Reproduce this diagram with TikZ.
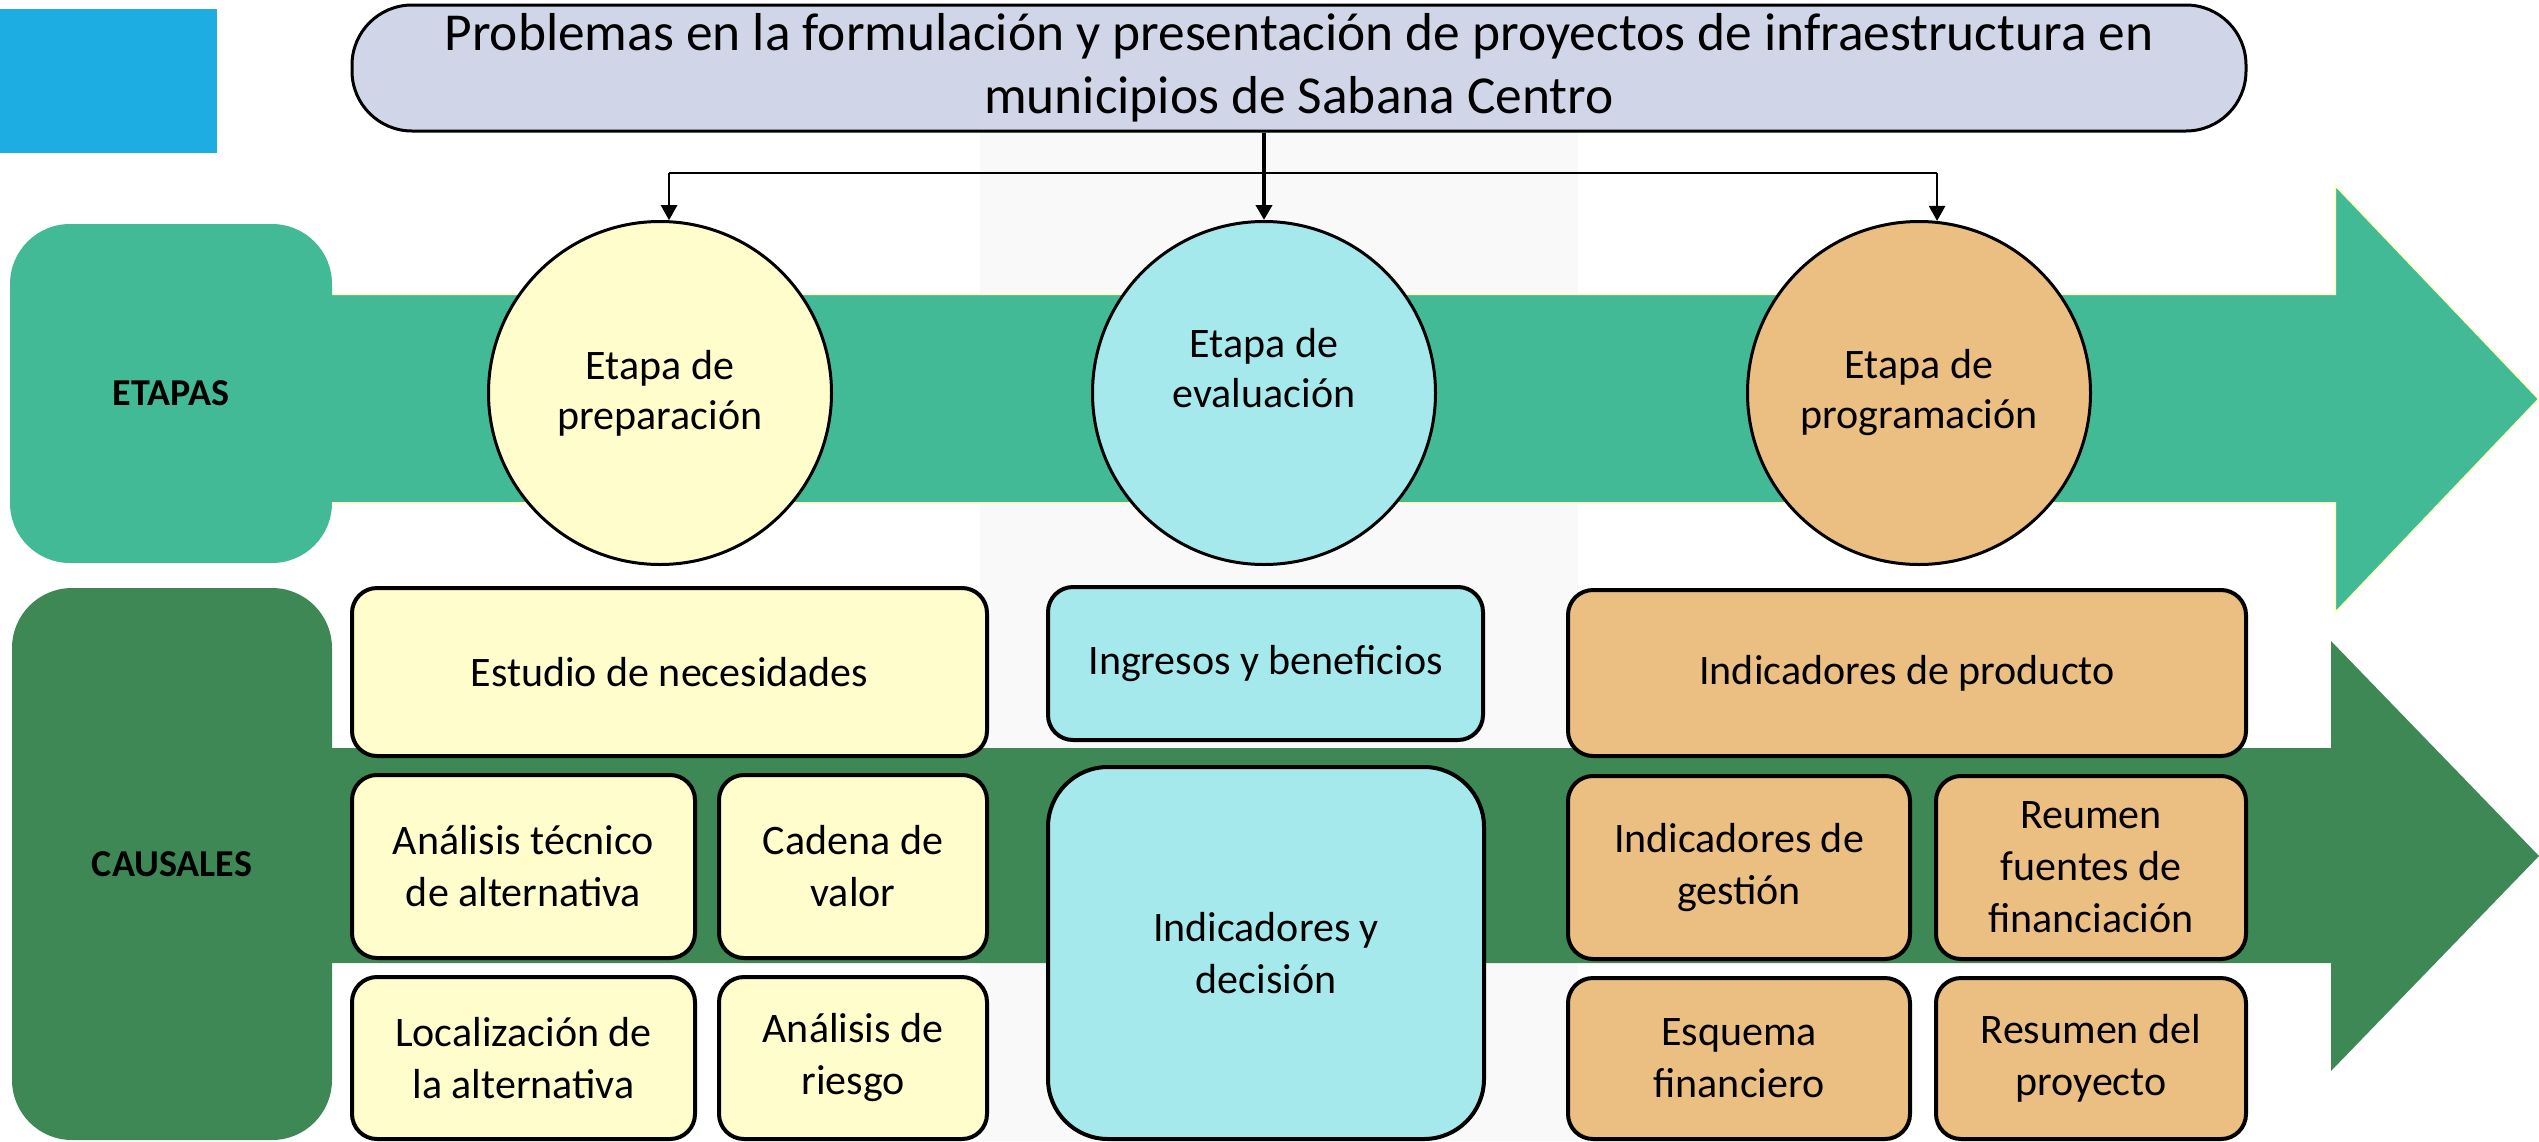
\documentclass[tikz,border=0pt]{standalone}
\usepackage{fontspec}
\setmainfont{Carlito}
\usetikzlibrary{arrows.meta}

\begin{document}
\begin{tikzpicture}[x=0.5pt,y=0.5pt,yscale=-1,xscale=1,
  dims/.style 2 args={minimum width=#1, minimum height=#2},
  box/.style={draw=black, line width=2pt, rounded corners=12.5pt, inner sep=0pt, align=center, font=\fontsize{21}{26}\selectfont},
  prepbox/.style={box, fill={rgb, 255:red, 255; green, 253; blue, 204}},
  evalbox/.style={box, fill={rgb, 255:red, 166; green, 233; blue, 237}},
  progbox/.style={box, fill={rgb, 255:red, 235; green, 190; blue, 130}},
  stage/.style={circle, draw=black, line width=1.5pt, minimum size=171.5pt, inner sep=0pt, align=center, font=\fontsize{21}{25}\selectfont},
  band/.style={draw=none, rounded corners=30pt, inner sep=0pt, font=\bfseries\fontsize{19}{23}\selectfont},
  link/.style={line width=1.25pt, -{Triangle[length=7.5pt,width=8pt]}}
]
\useasboundingbox (0,0) rectangle (2539,1141);

%Shape: Rectangle [background strip]
\fill [color={rgb, 255:red, 249; green, 249; blue, 249}] (980,131) rectangle (1578,1141);
%Shape: Rectangle [blue corner]
\fill [color={rgb, 255:red, 30; green, 173; blue, 227}] (0,9) rectangle (217,153);

%Shape: Right Arrow [etapas]
\draw [draw={rgb, 255:red, 255; green, 253; blue, 204}, line width=1pt, fill={rgb, 255:red, 67; green, 186; blue, 150}] (300,294) -- (2335,294) -- (2335,185) -- (2539,399) -- (2335,613) -- (2335,503) -- (300,503) -- cycle;
%Shape: Right Arrow [causales]
\fill [color={rgb, 255:red, 61; green, 136; blue, 84}] (300,748) -- (2331,748) -- (2331,641) -- (2539,856) -- (2331,1071) -- (2331,963) -- (300,963) -- cycle;

% Text Node
\node [band, dims={161pt}{169.5pt}, fill={rgb, 255:red, 67; green, 186; blue, 150}] (etapas) at (171,393.5) {ETAPAS};
% Text Node
\node [band, dims={160pt}{276pt}, fill={rgb, 255:red, 61; green, 136; blue, 84}] (causales) at (172,864) {CAUSALES};

% Text Node
\node [draw=black, line width=1.5pt, rounded corners=30pt, fill={rgb, 255:red, 208; green, 213; blue, 232}, inner sep=0pt, align=center, font=\fontsize{26.7}{31.75}\selectfont, dims={947pt}{63pt}] (title) at (1299,68) {Problemas en la formulación y presentación de proyectos de infraestructura en\\municipios de Sabana Centro};

%Shape: Circle
\node [stage, fill={rgb, 255:red, 255; green, 253; blue, 204}] (prep) at (660,393) {Etapa de\\preparación};
\node [stage, fill={rgb, 255:red, 166; green, 233; blue, 237}] (eval) at (1264,393) {Etapa de\\evaluación\\~};
\node [stage, fill={rgb, 255:red, 235; green, 190; blue, 130}] (prog) at (1919,393) {Etapa de\\programación};

%Straight Lines
\coordinate (hub) at (1264,173);
\draw [link, line width=2pt] (eval |- title.south) -- (eval.north);
\draw [line width=1.25pt] (prep.87 |- hub) -- (prog.84 |- hub);
\draw [link] (prep.87 |- hub) -- (prep.87);
\draw [link] (prog.84 |- hub) -- (prog.84);

% Text Node
\node [prepbox, dims={317.5pt}{84pt}] (need) at (669.5,672) {Estudio de necesidades};
\node [prepbox, dims={171.5pt}{91.5pt}] (tech) at (523.5,866.5) {Análisis técnico\\de alternativa};
\node [prepbox, dims={134pt}{91.5pt}] (chain) at (853,866.5) {Cadena de\\valor};
\node [prepbox, dims={171.5pt}{81pt}] (place) at (523.5,1058) {Localización de\\la alternativa};
\node [prepbox, dims={134pt}{81pt}] (risk) at (853,1058) {Análisis de\\riesgo};
% Text Node
\node [evalbox, dims={217.5pt}{76.5pt}] (income) at (1265.5,663.5) {Ingresos y beneficios};
\node [evalbox, rounded corners=30pt, dims={218pt}{186pt}] (decide) at (1266,953) {Indicadores y\\decisión};
% Text Node
\node [progbox, dims={339pt}{83pt}] (output) at (1907,673) {Indicadores de producto};
\node [progbox, dims={171pt}{91.5pt}] (manage) at (1739,867.5) {Indicadores de\\gestión};
\node [progbox, dims={155pt}{91.5pt}] (funds) at (2091,867.5) {Reumen\\fuentes de\\financiación};
\node [progbox, dims={171pt}{80.5pt}] (scheme) at (1739,1058.5) {Esquema\\financiero};
\node [progbox, dims={155pt}{80.5pt}] (summary) at (2091,1058.5) {Resumen del\\proyecto};

\end{tikzpicture}
\end{document}
